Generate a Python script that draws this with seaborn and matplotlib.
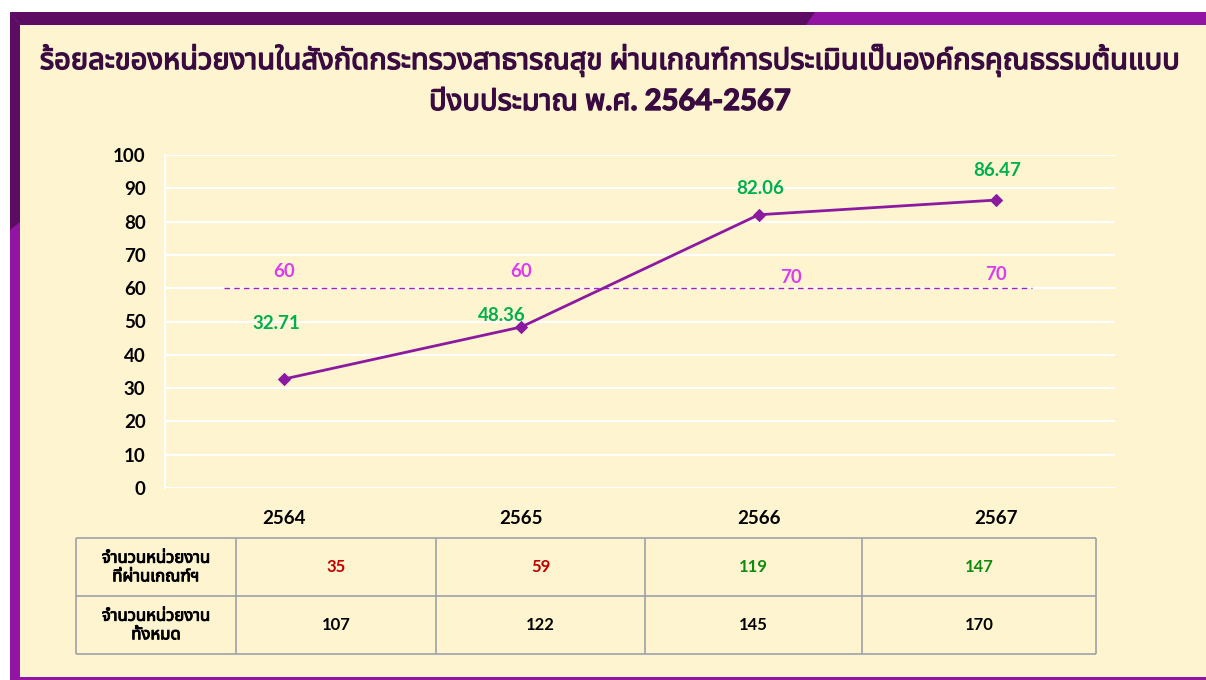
import numpy as np
import pandas as pd
import seaborn as sns
import matplotlib.pyplot as plt
import matplotlib.patheffects as pe
from matplotlib import font_manager, ft2font
from matplotlib.patches import Polygon, Rectangle

# -------------------------------
# Data
# -------------------------------
years = ['2564', '2565', '2566', '2567']
percent_passed = [32.71, 48.36, 82.06, 86.47]
target_line = 60
target_labels = ['60', '60', '70', '70']
units_passed = [35, 59, 119, 147]
units_total = [107, 122, 145, 170]
row_headers = ['จำนวนหน่วยงาน\nที่ผ่านเกณฑ์ฯ', 'จำนวนหน่วยงาน\nทั้งหมด']
title_lines = ['ร้อยละของหน่วยงานในสังกัดกระทรวงสาธารณสุข ผ่านเกณฑ์การประเมินเป็นองค์กรคุณธรรมต้นแบบ',
               'ปีงบประมาณ พ.ศ. 2564-2567']

df = pd.DataFrame({'year': years, 'percent': percent_passed})

# -------------------------------
# Fonts (need one with Thai glyphs)
# -------------------------------
def find_thai_font():
    prefs = ['Noto Sans Thai', 'Noto Sans Thai Looped', 'Kanit', 'Prompt', 'Sarabun',
             'Loma', 'Garuda', 'Waree', 'Tlwg Typo', 'Norasi', 'Laksaman']
    found = set()
    for f in font_manager.fontManager.ttflist:
        try:
            cmap = ft2font.FT2Font(f.fname).get_charmap()
        except Exception:
            continue
        if 0x0E01 in cmap and 0x0E2D in cmap:
            found.add(f.name)
    for p in prefs:
        if p in found:
            return p
    return sorted(found)[0] if found else None

thai_font = find_thai_font()
print("Thai font:", thai_font)

sns.set_theme(style='white')
families = ['Lato'] + ([thai_font] if thai_font else []) + ['DejaVu Sans']
plt.rcParams['font.family'] = families

W, H = 1206, 680
cream = '#FFF4D0'
dark_purple = '#5C0C62'
light_purple = '#9214A3'
line_color = '#8C1AA0'
green = '#00B050'
magenta = '#DA3CEE'
title_color = '#3A0B40'

fig = plt.figure(figsize=(W / 100, H / 100), dpi=100)
fig.patch.set_facecolor('white')

def px(x, y):
    return (x / W, 1 - y / H)

def heavy(color, w=0.9):
    # the Thai face only has a regular weight, so thicken it a bit
    return [pe.withStroke(linewidth=w, foreground=color)]

# -------------------------------
# Slide frame (drawn behind the axes)
# -------------------------------
fig.patches.append(Rectangle(px(20, 677), (W - 20) / W, 652 / H, transform=fig.transFigure,
                             facecolor=cream, edgecolor='none', zorder=-5))
fig.patches.append(Polygon([px(10, 12), px(W, 12), px(W, 25), px(20, 25)],
                           transform=fig.transFigure, facecolor=light_purple, edgecolor='none', zorder=-4))
fig.patches.append(Polygon([px(10, 12), px(815, 12), px(806, 25), px(20, 25)],
                           transform=fig.transFigure, facecolor=dark_purple, edgecolor='none', zorder=-3))
fig.patches.append(Polygon([px(10, 12), px(20, 25), px(20, 680), px(10, 680)],
                           transform=fig.transFigure, facecolor=light_purple, edgecolor='none', zorder=-4))
fig.patches.append(Polygon([px(10, 12), px(20, 25), px(20, 222), px(10, 230)],
                           transform=fig.transFigure, facecolor=dark_purple, edgecolor='none', zorder=-3))
fig.patches.append(Rectangle(px(20, 680), (W - 20) / W, 3 / H, transform=fig.transFigure,
                             facecolor=light_purple, edgecolor='none', zorder=-4))

# -------------------------------
# Title
# -------------------------------
for (tx, ty), line in zip([(610, 60), (610, 102)], title_lines):
    fig.text(*px(tx, ty), line, ha='center', va='center', fontsize=21,
             fontweight='bold', color=title_color, path_effects=heavy(title_color, 1.0))

# -------------------------------
# Line chart
# -------------------------------
ax = fig.add_axes([165 / W, 1 - 488 / H, 950 / W, 333 / H])
ax.set_facecolor(cream)

sns.lineplot(data=df, x='year', y='percent', ax=ax, color=line_color, linewidth=2,
             marker='D', markersize=6, markeredgecolor=line_color, zorder=4)

ax.hlines(target_line, -0.25, 3.15, colors='#A020C8', linestyles=(0, (4, 3)), linewidth=1, zorder=3)

label_offsets = [(-5, 40), (-14, 8), (1, 19), (1, 21)]
for i, (v, off) in enumerate(zip(percent_passed, label_offsets)):
    ax.annotate(f'{v:.2f}', (i, v), xytext=off, textcoords='offset points',
                ha='center', va='center', fontsize=13.5, fontweight='bold', color=green)

target_offsets = [(0, 12), (0, 12), (23, 8), (0, 10)]
for i, (t, off) in enumerate(zip(target_labels, target_offsets)):
    ax.annotate(t, (i, target_line), xytext=off, textcoords='offset points',
                ha='center', va='center', fontsize=13.5, fontweight='bold', color=magenta)

ax.set_xlim(-0.5, 3.5)
ax.set_ylim(0, 100)
ax.set_yticks(np.arange(0, 101, 10))
ax.grid(axis='y', color='white', linewidth=1.5)
ax.grid(axis='x', visible=False)
ax.set_axisbelow(True)
for side in ['top', 'right', 'bottom']:
    ax.spines[side].set_visible(False)
ax.spines['left'].set_color('white')
ax.spines['left'].set_linewidth(1.5)
ax.tick_params(axis='y', length=0, pad=14, labelsize=13.5)
ax.tick_params(axis='x', length=0, pad=16, labelsize=13.5)
for lab in ax.get_xticklabels() + ax.get_yticklabels():
    lab.set_fontweight('bold')
    lab.set_color('black')
ax.set_xlabel('')
ax.set_ylabel('')

# -------------------------------
# Table under the chart
# -------------------------------
tax = fig.add_axes([0, 0, 1, 1], facecolor='none')
tax.set_xlim(0, W)
tax.set_ylim(H, 0)
tax.axis('off')

col_edges = [76, 236, 436, 645, 862, 1096]
row_edges = [538, 596, 654]
grid_color = '#A0A0A8'
tax.hlines(row_edges, col_edges[0], col_edges[-1], colors=grid_color, linewidth=1.2)
tax.vlines(col_edges, row_edges[0], row_edges[-1], colors=grid_color, linewidth=1.2)

passed_colors = ['#C00000' if p < target_line else '#108A10' for p in percent_passed]
rows = [(units_passed, passed_colors), (units_total, ['black'] * len(units_total))]
for r, (header, (vals, cols)) in enumerate(zip(row_headers, rows)):
    yc = (row_edges[r] + row_edges[r + 1]) / 2
    tax.text((col_edges[0] + col_edges[1]) / 2, yc, header, ha='center', va='center',
             fontsize=12, fontweight='bold', color='black', linespacing=1.2,
             path_effects=heavy('black', 0.7))
    for c, (v, colr) in enumerate(zip(vals, cols)):
        xc = (col_edges[c + 1] + col_edges[c + 2]) / 2
        tax.text(xc, yc, str(v), ha='center', va='center', fontsize=12,
                 fontweight='bold', color=colr)

fig.savefig('out.png', dpi=100, facecolor=fig.get_facecolor())
